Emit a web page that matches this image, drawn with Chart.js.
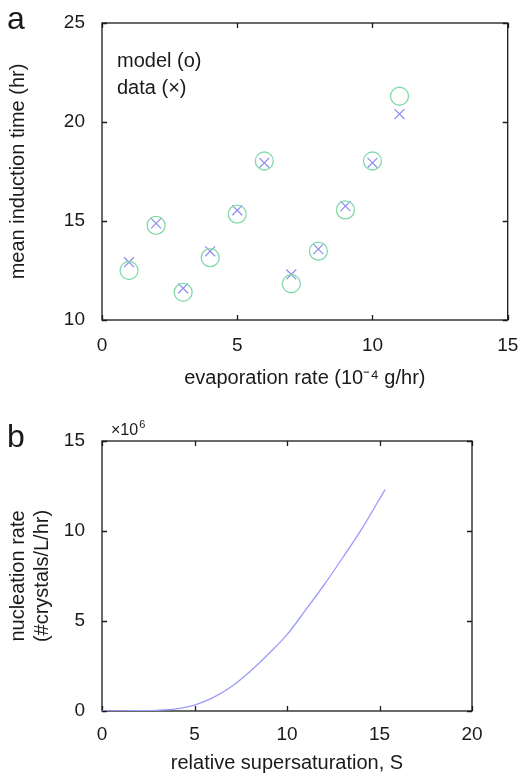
<!DOCTYPE html>
<html>
<head>
<meta charset="utf-8">
<script src="https://cdn.jsdelivr.net/npm/chart.js@4"></script>
<style>
  body { margin: 0; background: #fff; }
  #page { position: relative; width: 518px; height: 775px; font-family: 'Liberation Sans', Arial, sans-serif; color: #1a1a1a; }
  canvas { position: absolute; left: 0; }
  .lbl { position: absolute; white-space: nowrap; }
  .panel { font-size: 32px; line-height: 32px; left: 7px; }
  .note { font-size: 20px; line-height: 20px; left: 117px; }
  .mult { font-size: 16px; line-height: 16px; left: 111px; top: 416px; }
  .mult sup { font-size: 11px; vertical-align: 7px; margin-left: 1px; }
</style>
</head>
<body>
<div id="page">
  <canvas id="chart-a" width="518" height="400" style="top:0"></canvas>
  <canvas id="chart-b" width="518" height="375" style="top:400px"></canvas>
  <div class="lbl panel" style="top:2px">a</div>
  <div class="lbl panel" style="top:420px">b</div>
  <div class="lbl note" style="top:50px">model (o)</div>
  <div class="lbl note" style="top:77px">data (×)</div>
  <div class="lbl mult">×10<sup>6</sup></div>
</div>
<script>
// ─── data ─────────────────────────────────────────────────
const evapRate = [1, 2, 3, 4, 5, 6, 7, 8, 9, 10, 11];
const modelTime = [12.5, 14.78, 11.4, 13.15, 15.35, 18.03, 11.83, 13.48, 15.56, 18.03, 21.3];
const dataTime = [12.92, 14.88, 11.6, 13.47, 15.54, 17.94, 12.3, 13.58, 15.75, 17.94, 20.4];

const supersat = [0, 0.8, 2, 3, 4, 5, 6, 7, 8, 9, 10, 11, 12, 13, 14, 15.3];
const nucRateE6 = [0, 0, 0.02, 0.04, 0.12, 0.33, 0.74, 1.36, 2.2, 3.17, 4.24, 5.6, 7.0, 8.5, 10.05, 12.3];

const ticksA = { x: [0, 15, 5], y: [10, 25, 5] };
const ticksB = { x: [0, 20, 5], y: [0, 15, 5] };

const FONT = "'Liberation Sans', Arial, sans-serif";
const INK = '#1a1a1a';
const colors = {
    model: 'rgb(130,218,168)',
    data: 'rgb(140,140,240)',
    curve: 'rgb(155,155,250)'
};

// MATLAB-like box with inward tick marks
const boxTicks = {
    id: 'boxTicks',
    beforeDatasetsDraw(chart) {
        const { ctx, chartArea: a, scales: { x, y } } = chart;
        const len = 5;
        ctx.save();
        ctx.strokeStyle = INK;
        ctx.lineWidth = 1.3;
        ctx.strokeRect(a.left, a.top, a.width, a.height);
        ctx.beginPath();
        x.ticks.forEach(t => {
            const px = Math.round(x.getPixelForValue(t.value)) + 0.5;
            ctx.moveTo(px, a.bottom); ctx.lineTo(px, a.bottom - len);
            ctx.moveTo(px, a.top); ctx.lineTo(px, a.top + len);
        });
        y.ticks.forEach(t => {
            const py = Math.round(y.getPixelForValue(t.value)) + 0.5;
            ctx.moveTo(a.left, py); ctx.lineTo(a.left + len, py);
            ctx.moveTo(a.right, py); ctx.lineTo(a.right - len, py);
        });
        ctx.stroke();
        ctx.restore();
    }
};

function axis(range, opts) {
    return {
        type: 'linear',
        min: range[0], max: range[1],
        grid: { display: false, drawTicks: false },
        border: { display: false },
        ticks: { stepSize: range[2], color: INK, font: { family: FONT, size: 19 }, padding: opts.pad },
        title: {
            display: true, text: opts.title, color: INK,
            font: { family: FONT, size: 20, lineHeight: 1.2 },
            padding: opts.titlePad
        },
        afterFit: s => {
            // fixed sizes so the plot boxes land where the figure has them
            if (opts.width) s.width = opts.width;
            if (opts.height) s.height = opts.height;
            s.paddingLeft = s.paddingRight = s.paddingTop = s.paddingBottom = 0;
        }
    };
}

const baseOptions = {
    responsive: false,
    animation: false,
    events: [],
    plugins: { legend: { display: false }, tooltip: { enabled: false } }
};

// ─── a: induction time vs evaporation rate ──────────────
new Chart(document.getElementById('chart-a'), {
    type: 'scatter',
    data: {
        datasets: [
            {
                data: evapRate.map((x, i) => ({ x, y: modelTime[i] })),
                pointStyle: 'circle', pointRadius: 9,
                borderColor: colors.model, backgroundColor: 'transparent', borderWidth: 1.3
            },
            {
                data: evapRate.map((x, i) => ({ x, y: dataTime[i] })),
                pointStyle: 'crossRot', pointRadius: 7,
                borderColor: colors.data, borderWidth: 1.2
            }
        ]
    },
    options: {
        ...baseOptions,
        layout: { padding: { top: 23, right: 10, bottom: 0, left: 0 } },
        scales: {
            x: axis(ticksA.x, { pad: 14, title: 'evaporation rate (10⁻⁴ g/hr)', titlePad: { top: 0, bottom: 10 }, height: 80 }),
            y: axis(ticksA.y, { pad: 17, title: 'mean induction time (hr)', titlePad: { top: 6, bottom: 0 }, width: 102 })
        }
    },
    plugins: [boxTicks]
});

// ─── b: nucleation rate vs supersaturation ──────────────
new Chart(document.getElementById('chart-b'), {
    type: 'scatter',
    data: {
        datasets: [{
            data: supersat.map((x, i) => ({ x, y: nucRateE6[i] })),
            showLine: true, pointRadius: 0,
            borderColor: colors.curve, borderWidth: 1.3,
            cubicInterpolationMode: 'monotone'
        }]
    },
    options: {
        ...baseOptions,
        layout: { padding: { top: 41, right: 46, bottom: 0, left: 0 } },
        scales: {
            x: axis(ticksB.x, { pad: 12, title: 'relative supersaturation, S', titlePad: { top: 0, bottom: 0 }, height: 64 }),
            y: axis(ticksB.y, { pad: 17, title: ['nucleation rate', '(#crystals/L/hr)'], titlePad: { top: 6, bottom: 0 }, width: 102 })
        }
    },
    plugins: [boxTicks]
});
</script>
</body>
</html>
